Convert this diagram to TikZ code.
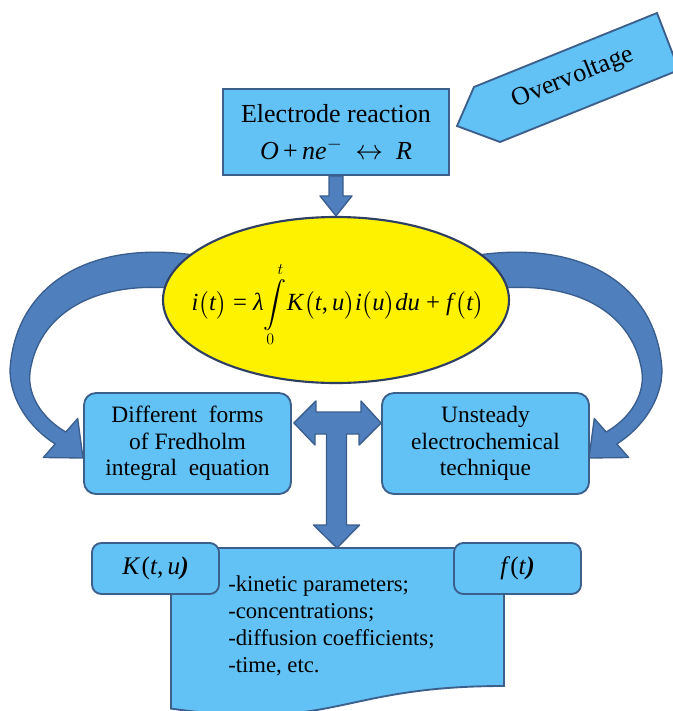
\documentclass[tikz,border=0pt]{standalone}
\usepackage{exscale}
\usepackage{fontspec}
\setmainfont{Liberation Serif}
\usetikzlibrary{calc,shapes.geometric}
\definecolor{boxfill}{HTML}{62C1F5}
\definecolor{boxline}{HTML}{3C5F8C}
\definecolor{arrfill}{HTML}{4F7FBD}
\definecolor{arrline}{HTML}{3A5E8E}
\definecolor{elline}{HTML}{2E3F63}
\begin{document}
\begin{tikzpicture}[x=0.75pt,y=-0.75pt,
  bluebox/.style={draw=boxline, fill=boxfill, line width=1.4pt, inner sep=0pt, align=center},
  roundbox/.style={bluebox, rounded corners=9pt},
  smallbox/.style={bluebox, rounded corners=7pt, font=\fontsize{19}{22}\selectfont},
  bigarrow/.style={draw=arrline, fill=arrfill, line width=1pt, line join=round},
  lbl/.style={font=\fontsize{17.6}{20}\selectfont}
]
\useasboundingbox (0,0) rectangle (673,711);

% curved arrows (behind the ellipse)
\draw[bigarrow] (200,256) .. controls (90,238) and (15,285) .. (10,370)
  .. controls (10,400) and (30,428) .. (55.2,444) -- (43.3,457.5) -- (83,458)
  -- (77.7,418.5) -- (65.8,432) .. controls (45,420) and (27,398) .. (30,372)
  .. controls (40,305) and (110,275) .. (200,292) -- cycle;
\draw[bigarrow] (472,256) .. controls (582,238) and (657,285) .. (662,370)
  .. controls (662,400) and (642,428) .. (616.8,444) -- (628.7,457.5) -- (589,458)
  -- (594.3,418.5) -- (606.2,432) .. controls (627,420) and (645,398) .. (642,372)
  .. controls (632,305) and (562,275) .. (472,292) -- cycle;

% ellipse with the integral equation
\node[ellipse, draw=elline, fill=yellow, line width=1.6pt, inner sep=0pt,
      minimum width=259.5pt, minimum height=124.5pt] (eq) at (336,300) {};
\node[font=\fontsize{18.5}{22}\selectfont, inner sep=0pt] (formula) at (338,305)
  {\textit{i}$\bigl($\textit{t}$\bigr)$ = \textit{λ}$\displaystyle\int\limits_{0}^{t}$\textit{K}$\bigl($\textit{t},\,\textit{u}$\bigr)$\textit{i}$\bigl($\textit{u}$\bigr)$\textit{du} + \textit{f}$\bigl($\textit{t}$\bigr)$};

% electrode reaction box
\node[bluebox, minimum width=169.5pt, minimum height=64.5pt,
      font=\fontsize{19.5}{28.5}\selectfont] (er) at (336,132)
  {Electrode reaction\\[-1pt] \textit{O}\,+\,\textit{ne}$^{-}$\enspace$\leftrightarrow$\enspace\textit{R}};

% overvoltage arrow
\draw[bluebox] (457,126) -- (474,87) -- (657,13) -- (679,70) -- (500,142) -- cycle;
\node[rotate=22, font=\fontsize{19.5}{22}\selectfont] (ov) at (573,78) {Overvoltage};

% arrow from reaction box to ellipse
\draw[bigarrow] ($(er.south)+(-7,0)$) -- ++(14,0) -- ++(0,20) -- ++(9,0)
  -- (eq.north) -- ++(-16,-20) -- ++(9,0) -- cycle;

% two middle boxes
\node[roundbox, lbl, minimum width=155.25pt, minimum height=75.75pt] (lb) at (187.5,443.5)
  {Different\ \ forms\\of Fredholm\\integral\ \ equation};
\node[roundbox, lbl, minimum width=155.25pt, minimum height=75.75pt] (rb) at (485.5,443.5)
  {Unsteady\\electrochemical\\technique};

% bottom document shape
\coordinate (doctop) at (337,548);
\draw[bluebox] (171,548) -- (504,548) -- (504,686)
  .. controls (337.5,686) and (337.5,732) .. (171,708.6) -- cycle;
\node[font=\fontsize{17}{20.25}\selectfont, align=left, anchor=west, inner sep=0pt] (params) at (228,626)
  {-kinetic parameters;\\-concentrations;\\-diffusion coefficients;\\-time, etc.};

% K and f boxes
\node[smallbox, minimum width=95.25pt, minimum height=38.25pt] (kb) at (155.5,568.5)
  {\textit{K}\kern1pt(\textit{t},\,\textit{u}\textbf{\textit{)}}};
\node[smallbox, minimum width=95.25pt, minimum height=38.25pt] (fb) at (517.5,568.5)
  {\textit{f}(\textit{t}\textbf{\textit{)}}};

% T shaped double arrow
\coordinate (tl) at ($(lb.east)+(2,-20.5)$);
\coordinate (tr) at ($(rb.west)+(0,-20.5)$);
\draw[bigarrow] (tl) -- ++(22,-22) -- ++(0,11) -- ++(45,0) -- ++(0,-11) -- (tr)
  -- ++(-22,22) -- ++(0,-11) -- ++(-12.5,0) -- ++(0,91) -- ++(13,0) -- (doctop)
  -- ++(-23.5,-23) -- ++(13,0) -- ++(0,-91) -- ++(-11.5,0) -- ++(0,11) -- cycle;
\end{tikzpicture}
\end{document}
